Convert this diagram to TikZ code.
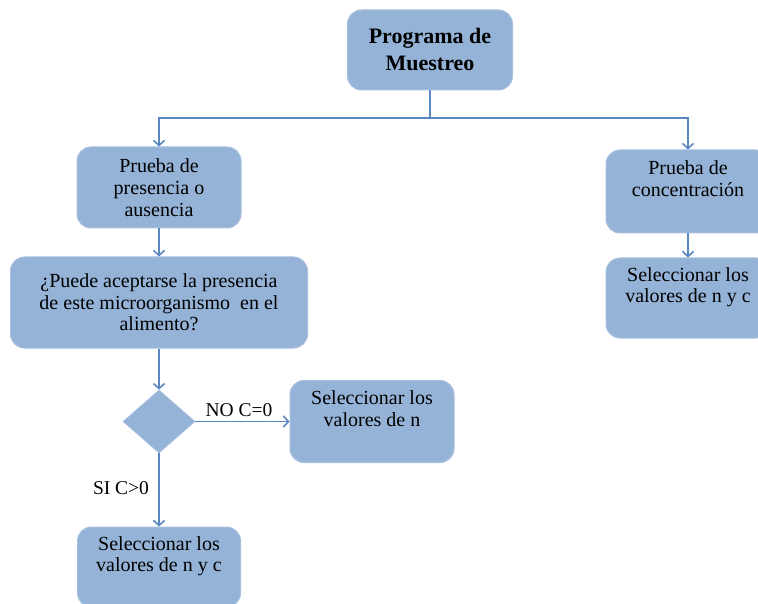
\documentclass[tikz,border=0pt]{standalone}
\usepackage{fontspec}
\setmainfont{Liberation Serif}
\usetikzlibrary{arrows.meta,shapes.geometric}
\definecolor{boxfill}{HTML}{95B3D7}
\definecolor{boxedge}{HTML}{A7C0DF}
\definecolor{linec}{HTML}{5B87C0}
\begin{document}
\begin{tikzpicture}[x=1pt,y=-1pt,
  box/.style={fill=boxfill, draw=boxedge, line width=1pt, rounded corners=14pt,
    align=center, inner sep=0pt, font=\fontsize{20}{21.7}\selectfont},
  conn/.style={draw=linec, line width=1.6pt, -{Straight Barb[length=5pt,width=11pt]}},
  plain/.style={draw=linec, line width=1.6pt},
  lbl/.style={font=\fontsize{19.5}{20}\selectfont, inner sep=0pt}]
\useasboundingbox (0,0) rectangle (758,604);
\node[box, minimum width=165, minimum height=80, font=\bfseries\fontsize{22}{27}\selectfont] (prog) at (430,50) {Programa de\\Muestreo};
\node[box, minimum width=164, minimum height=81] (pres) at (159,187.5) {Prueba de\\presencia o\\ausencia};
\node[box, minimum width=297, minimum height=91] (puede) at (159,302.5) {¿Puede aceptarse la presencia\\de este microorganismo\ \ en el\\alimento?};
\node[diamond, fill=boxfill, draw=boxedge, line width=0.8pt, minimum width=72, minimum height=63, aspect=1.14, inner sep=0pt] (dec) at (159,421.5) {};
\node[box, minimum width=164, minimum height=82] (selN) at (372,421.5) {Seleccionar los\\valores de n\\[4pt]};
\node[box, minimum width=163, minimum height=80] (selNC) at (159,567) {Seleccionar los\\valores de n y c\\[4pt]};
\node[box, minimum width=164, minimum height=83] (conc) at (688,191.5) {Prueba de\\concentración\\[4pt]};
\node[box, minimum width=164, minimum height=80] (selNC2) at (688,298) {Seleccionar los\\valores de n y c\\[4pt]};
\coordinate (j) at (430,118);
\draw[plain] (prog.south) -- (j);
\draw[conn] (j) -| (pres.north);
\draw[conn] (j) -| (conc.north);
\draw[conn] (pres.south) -- (puede.north);
\draw[conn] (conc.south) -- (selNC2.north);
\draw[conn] (puede.south) -- (dec.north);
\draw[conn] (dec.east) -- (selN.west);
\draw[conn] (dec.south) -- (selNC.north);
\node[lbl] (no) at (239,410) {NO C=0};
\node[lbl] (si) at (121,488) {SI C>0};
\end{tikzpicture}
\end{document}
